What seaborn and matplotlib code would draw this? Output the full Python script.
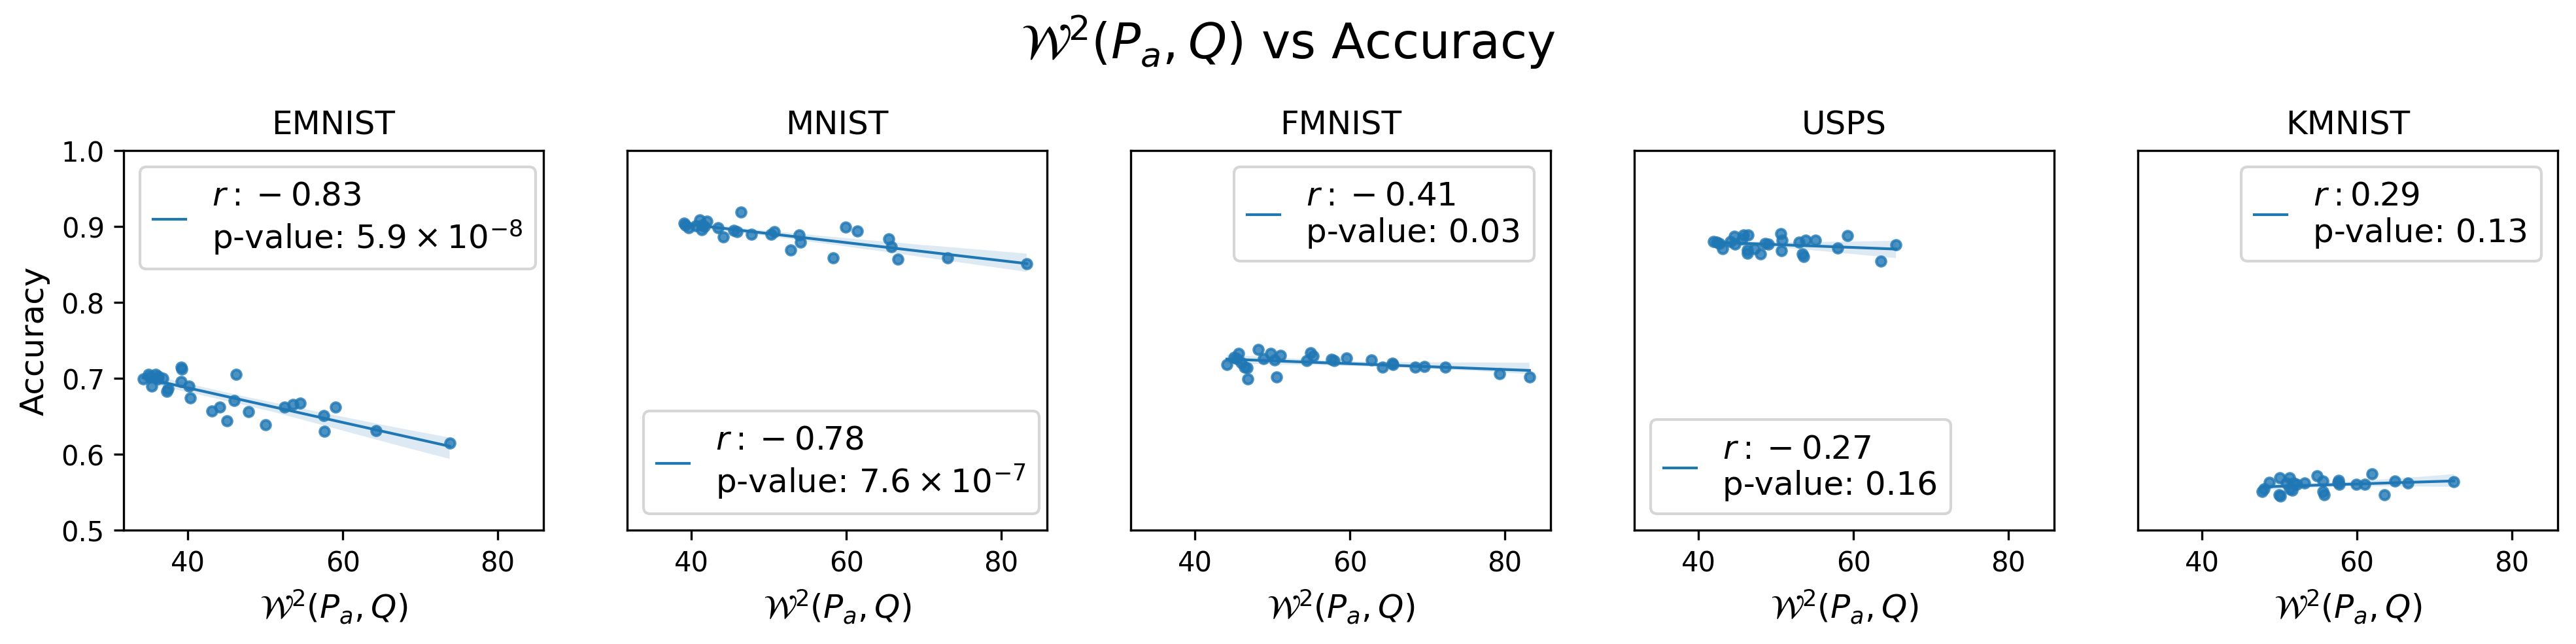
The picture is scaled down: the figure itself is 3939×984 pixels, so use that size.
import seaborn as sns
import pandas as pd
import numpy as np

import matplotlib
matplotlib.use("Agg")
import matplotlib.pyplot as plt

# Datasets shown left to right
datasets = ["EMNIST", "MNIST", "FMNIST", "USPS", "KMNIST"]

# W^2(P_a, Q) distances and accuracies
emnist_w2 = [34.2, 34.9, 35.1, 35.3, 35.8, 36.1, 36.2, 36.8, 37.3, 37.4, 39.1, 39.2, 39.1, 40.1,
             40.3, 43.1, 44.1, 45.0, 46.2, 46.0, 47.8, 50.0, 52.5, 53.6, 54.5, 57.5, 57.6, 59.1,
             64.3, 73.8]
emnist_acc = [0.699, 0.705, 0.702, 0.690, 0.705, 0.699, 0.703, 0.700, 0.683, 0.686, 0.715, 0.712,
              0.696, 0.690, 0.674, 0.657, 0.662, 0.644, 0.705, 0.671, 0.656, 0.639, 0.662, 0.666,
              0.667, 0.651, 0.630, 0.662, 0.631, 0.615]

mnist_w2 = [39.0, 39.2, 39.6, 40.6, 41.1, 41.4, 41.3, 42.0, 41.7, 43.4, 44.1, 45.5, 45.9, 46.4,
            47.7, 50.3, 50.7, 52.8, 53.9, 54.1, 58.3, 59.9, 61.4, 65.5, 65.8, 66.7, 73.1, 83.3]
mnist_acc = [0.904, 0.902, 0.898, 0.901, 0.909, 0.902, 0.896, 0.907, 0.900, 0.898, 0.886, 0.895,
             0.893, 0.919, 0.890, 0.890, 0.893, 0.869, 0.889, 0.879, 0.859, 0.899, 0.894, 0.884,
             0.873, 0.857, 0.859, 0.851]

fmnist_w2 = [44.1, 45.0, 45.6, 45.4, 46.0, 46.4, 46.7, 46.8, 48.2, 48.8, 49.8, 50.3, 51.0, 50.5,
             54.4, 54.9, 55.3, 57.6, 58.0, 59.6, 62.8, 64.2, 65.5, 65.6, 68.4, 69.6, 72.3, 79.3,
             83.2]
fmnist_acc = [0.718, 0.728, 0.733, 0.726, 0.721, 0.715, 0.714, 0.699, 0.738, 0.726, 0.733, 0.724,
              0.730, 0.702, 0.723, 0.734, 0.729, 0.725, 0.723, 0.727, 0.724, 0.715, 0.720, 0.718,
              0.715, 0.716, 0.715, 0.706, 0.702]

usps_w2 = [41.9, 42.3, 42.7, 43.1, 44.1, 44.6, 44.7, 45.8, 46.4, 45.6, 46.3, 46.3, 47.2, 48.0,
           48.6, 49.0, 50.6, 50.8, 50.7, 53.0, 53.8, 53.4, 53.6, 55.1, 58.0, 59.2, 63.5, 65.5]
usps_acc = [0.880, 0.879, 0.878, 0.871, 0.880, 0.887, 0.877, 0.889, 0.889, 0.884, 0.869, 0.865,
            0.871, 0.864, 0.878, 0.877, 0.891, 0.882, 0.868, 0.879, 0.882, 0.864, 0.860, 0.882,
            0.872, 0.888, 0.854, 0.876]

kmnist_w2 = [47.7, 48.0, 48.7, 49.9, 50.0, 50.1, 51.3, 51.3, 51.6, 51.8, 52.2, 53.2, 54.8, 55.6,
             55.6, 55.8, 57.5, 57.7, 59.9, 61.0, 61.9, 63.5, 64.9, 66.6, 72.5, 50.9, 57.6]
kmnist_acc = [0.551, 0.554, 0.563, 0.547, 0.569, 0.545, 0.569, 0.554, 0.553, 0.562, 0.560, 0.562,
              0.572, 0.565, 0.551, 0.547, 0.563, 0.560, 0.560, 0.560, 0.574, 0.547, 0.565, 0.562,
              0.564, 0.562, 0.566]

# Correlation labels as printed in the legends
r_labels = [r"$r: \:-\: 0.83$", r"$r: \:-\: 0.78$", r"$r: \:-\: 0.41$", r"$r: \:-\: 0.27$",
            r"$r: 0.29$"]
p_labels = [r"p-value: $5.9 \times 10^{-8}$", r"p-value: $7.6 \times 10^{-7}$",
            "p-value: 0.03", "p-value: 0.16", "p-value: 0.13"]
legend_locs = ["upper left", "lower left", "upper right", "lower left", "upper right"]

w2_values = [emnist_w2, mnist_w2, fmnist_w2, usps_w2, kmnist_w2]
acc_values = [emnist_acc, mnist_acc, fmnist_acc, usps_acc, kmnist_acc]

w2_label = r"$\mathcal{W}^2(P_a, Q)$"

fig, axes = plt.subplots(1, 5, figsize=(13.133, 3.283))

for i, ax in enumerate(axes):
    df = pd.DataFrame({"w2": w2_values[i], "acc": acc_values[i]})
    sns.regplot(data=df, x="w2", y="acc", ax=ax, seed=0,
                scatter_kws={"s": 12},
                line_kws={"linewidth": 1, "label": r_labels[i] + "\n" + p_labels[i]})
    ax.set_title(datasets[i], fontsize=12)
    ax.set_xlabel(w2_label, fontsize=12)
    ax.set_ylim(0.5, 1.0)
    ax.set_xlim(31.7, 85.9)
    ax.set_xticks([40, 60, 80])
    if i == 0:
        ax.set_ylabel("Accuracy", fontsize=12)
    else:
        ax.set_ylabel("")
        ax.set_yticks([])
    ax.legend(loc=legend_locs[i], fontsize=12, handlelength=1)

fig.suptitle(w2_label + " vs Accuracy", fontsize=18)
plt.subplots_adjust(left=0.048, right=0.9926, top=0.7655, bottom=0.1766, wspace=0.2)
plt.savefig("out.png", dpi=300)
